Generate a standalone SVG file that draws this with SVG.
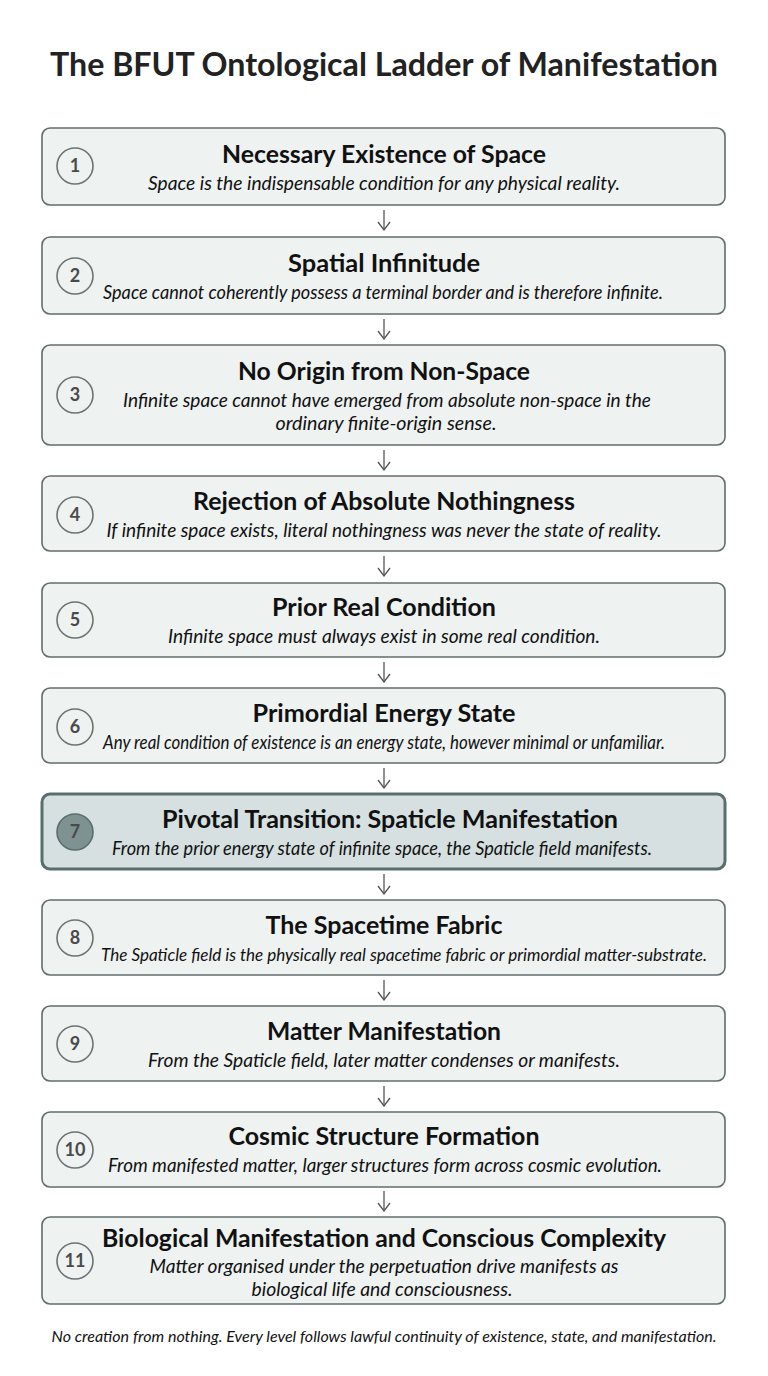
<svg xmlns="http://www.w3.org/2000/svg" width="768" height="1376" viewBox="0 0 768 1376">
<defs>
<marker id="ah" viewBox="0 0 10 14" refX="9" refY="7" markerWidth="10" markerHeight="14" markerUnits="userSpaceOnUse" orient="auto">
<path d="M1,1 L9,7 L1,13" fill="none" stroke="#555" stroke-width="1.3"/>
</marker>
<style>
.box{fill:#eef2f1;stroke:#626d6d;stroke-width:1.6}
.hbox{fill:#d6e0e0;stroke:#5b6e6e;stroke-width:3}
.circ{fill:#eef2f1;stroke:#6a7474;stroke-width:1.6}
.hcirc{fill:#7f9292;stroke:#5b6e6e;stroke-width:1.6}
.num{font-family:Lato,"Liberation Sans",sans-serif;font-size:18px;font-weight:bold;fill:#4a4a4a;text-anchor:middle}
.t{font-family:Lato,"Liberation Sans",sans-serif;font-size:24.5px;font-weight:bold;fill:#111;text-anchor:middle}
.s{font-family:Lato,"Liberation Sans",sans-serif;font-size:19px;font-style:italic;fill:#111;text-anchor:middle}
.title{font-family:Lato,"Liberation Sans",sans-serif;font-size:32px;font-weight:bold;fill:#222;text-anchor:middle}
.foot{font-family:Lato,"Liberation Sans",sans-serif;font-size:16px;font-style:italic;fill:#111;text-anchor:middle}
.arr{stroke:#555;stroke-width:1.3;fill:none}
</style>
</defs>
<rect width="768" height="1376" fill="#ffffff"/>
<text class="title" x="384" y="76" textLength="668" lengthAdjust="spacingAndGlyphs">The BFUT Ontological Ladder of Manifestation</text>

<g id="connectors">
<line class="arr" x1="384" y1="210" x2="384" y2="230" marker-end="url(#ah)"/>
<line class="arr" x1="384" y1="319" x2="384" y2="339" marker-end="url(#ah)"/>
<line class="arr" x1="384" y1="450" x2="384" y2="470" marker-end="url(#ah)"/>
<line class="arr" x1="384" y1="556" x2="384" y2="576" marker-end="url(#ah)"/>
<line class="arr" x1="384" y1="662" x2="384" y2="682" marker-end="url(#ah)"/>
<line class="arr" x1="384" y1="768" x2="384" y2="788" marker-end="url(#ah)"/>
<line class="arr" x1="384" y1="874" x2="384" y2="894" marker-end="url(#ah)"/>
<line class="arr" x1="384" y1="980" x2="384" y2="1000" marker-end="url(#ah)"/>
<line class="arr" x1="384" y1="1086" x2="384" y2="1106" marker-end="url(#ah)"/>
<line class="arr" x1="384" y1="1191" x2="384" y2="1211" marker-end="url(#ah)"/>
</g>

<g id="n1">
<rect class="box" x="42" y="128" width="683" height="77" rx="8"/>
<circle class="circ" cx="75" cy="166" r="18"/><text class="num" x="75" y="172">1</text>
<text class="t" x="384" y="163" textLength="324" lengthAdjust="spacingAndGlyphs">Necessary Existence of Space</text>
<text class="s" x="384" y="190" textLength="472" lengthAdjust="spacingAndGlyphs">Space is the indispensable condition for any physical reality.</text>
</g>
<g id="n2">
<rect class="box" x="42" y="237" width="683" height="77" rx="8"/>
<circle class="circ" cx="75" cy="276" r="18"/><text class="num" x="75" y="282">2</text>
<text class="t" x="384" y="272" textLength="192" lengthAdjust="spacingAndGlyphs">Spatial Infinitude</text>
<text class="s" x="383" y="299" textLength="560" lengthAdjust="spacingAndGlyphs">Space cannot coherently possess a terminal border and is therefore infinite.</text>
</g>
<g id="n3">
<rect class="box" x="42" y="345" width="683" height="100" rx="8"/>
<circle class="circ" cx="75" cy="395" r="18"/><text class="num" x="75" y="401">3</text>
<text class="t" x="384" y="380" textLength="292" lengthAdjust="spacingAndGlyphs">No Origin from Non-Space</text>
<text class="s" x="387" y="407" textLength="528" lengthAdjust="spacingAndGlyphs">Infinite space cannot have emerged from absolute non-space in the</text>
<text class="s" x="386" y="430" textLength="221" lengthAdjust="spacingAndGlyphs">ordinary finite-origin sense.</text>
</g>
<g id="n4">
<rect class="box" x="42" y="476" width="683" height="75" rx="8"/>
<circle class="circ" cx="75" cy="515" r="18"/><text class="num" x="75" y="521">4</text>
<text class="t" x="384" y="510" textLength="382" lengthAdjust="spacingAndGlyphs">Rejection of Absolute Nothingness</text>
<text class="s" x="384" y="537" textLength="555" lengthAdjust="spacingAndGlyphs">If infinite space exists, literal nothingness was never the state of reality.</text>
</g>
<g id="n5">
<rect class="box" x="42" y="583" width="683" height="74" rx="8"/>
<circle class="circ" cx="75" cy="620" r="18"/><text class="num" x="75" y="626">5</text>
<text class="t" x="384" y="616" textLength="224" lengthAdjust="spacingAndGlyphs">Prior Real Condition</text>
<text class="s" x="384" y="643" textLength="432" lengthAdjust="spacingAndGlyphs">Infinite space must always exist in some real condition.</text>
</g>
<g id="n6">
<rect class="box" x="42" y="688" width="683" height="75" rx="8"/>
<circle class="circ" cx="75" cy="727" r="18"/><text class="num" x="75" y="733">6</text>
<text class="t" x="384" y="722" textLength="263" lengthAdjust="spacingAndGlyphs">Primordial Energy State</text>
<text class="s" x="384" y="749" textLength="562" lengthAdjust="spacingAndGlyphs">Any real condition of existence is an energy state, however minimal or unfamiliar.</text>
</g>
<g id="n7">
<rect class="hbox" x="42" y="794" width="683" height="75" rx="8"/>
<circle class="hcirc" cx="75" cy="832" r="18"/><text class="num" x="75" y="838">7</text>
<text class="t" x="390" y="828" textLength="456" lengthAdjust="spacingAndGlyphs">Pivotal Transition: Spaticle Manifestation</text>
<text class="s" x="382" y="855" textLength="540" lengthAdjust="spacingAndGlyphs">From the prior energy state of infinite space, the Spaticle field manifests.</text>
</g>
<g id="n8">
<rect class="box" x="42" y="900" width="683" height="75" rx="8"/>
<circle class="circ" cx="75" cy="938" r="18"/><text class="num" x="75" y="944">8</text>
<text class="t" x="384" y="934" textLength="237" lengthAdjust="spacingAndGlyphs">The Spacetime Fabric</text>
<text class="s" x="404" y="961" style="font-size:17px" textLength="606" lengthAdjust="spacingAndGlyphs">The Spaticle field is the physically real spacetime fabric or primordial matter-substrate.</text>
</g>
<g id="n9">
<rect class="box" x="42" y="1006" width="683" height="75" rx="8"/>
<circle class="circ" cx="75" cy="1044" r="18"/><text class="num" x="75" y="1050">9</text>
<text class="t" x="384" y="1040" textLength="234" lengthAdjust="spacingAndGlyphs">Matter Manifestation</text>
<text class="s" x="384" y="1067" textLength="472" lengthAdjust="spacingAndGlyphs">From the Spaticle field, later matter condenses or manifests.</text>
</g>
<g id="n10">
<rect class="box" x="42" y="1112" width="683" height="75" rx="8"/>
<circle class="circ" cx="75" cy="1150" r="18"/><text class="num" x="75" y="1156">10</text>
<text class="t" x="384" y="1145" textLength="311" lengthAdjust="spacingAndGlyphs">Cosmic Structure Formation</text>
<text class="s" x="385" y="1172" textLength="554" lengthAdjust="spacingAndGlyphs">From manifested matter, larger structures form across cosmic evolution.</text>
</g>
<g id="n11">
<rect class="box" x="42" y="1217" width="683" height="87" rx="8"/>
<circle class="circ" cx="75" cy="1261" r="18"/><text class="num" x="75" y="1267">11</text>
<text class="t" x="384" y="1247" textLength="564" lengthAdjust="spacingAndGlyphs">Biological Manifestation and Conscious Complexity</text>
<text class="s" x="384" y="1273" textLength="469" lengthAdjust="spacingAndGlyphs">Matter organised under the perpetuation drive manifests as</text>
<text class="s" x="382" y="1296" textLength="261" lengthAdjust="spacingAndGlyphs">biological life and consciousness.</text>
</g>

<text class="foot" x="384" y="1342" textLength="665" lengthAdjust="spacingAndGlyphs">No creation from nothing. Every level follows lawful continuity of existence, state, and manifestation.</text>
</svg>
